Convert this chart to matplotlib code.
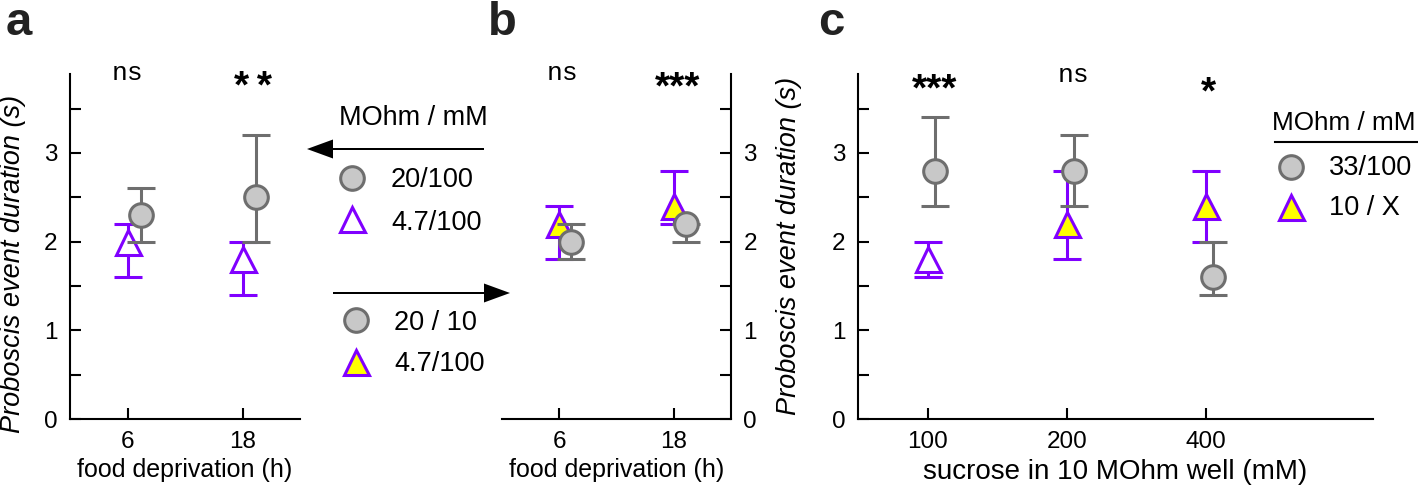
import matplotlib
matplotlib.use("Agg")
import matplotlib.pyplot as plt
from matplotlib.ticker import MultipleLocator
import numpy as np

plt.rcParams['font.family'] = ['Liberation Sans', 'DejaVu Sans']

# ---------------- data ----------------
a_cats = ["6", "18"]
a_circ_mean = [2.3, 2.5]
a_circ_lo = [2.0, 2.0]
a_circ_hi = [2.6, 3.2]
a_tri_mean = [2.0, 1.8]
a_tri_lo = [1.6, 1.4]
a_tri_hi = [2.2, 2.0]
a_sig = ["ns", "*\u2009*"]

b_cats = ["6", "18"]
b_circ_mean = [2.0, 2.2]
b_circ_lo = [1.8, 2.0]
b_circ_hi = [2.2, 2.2]
b_tri_mean = [2.2, 2.4]
b_tri_lo = [1.8, 2.2]
b_tri_hi = [2.4, 2.8]
b_sig = ["ns", "***"]

c_cats = ["100", "200", "400"]
c_circ_mean = [2.8, 2.8, 1.6]
c_circ_lo = [2.4, 2.4, 1.4]
c_circ_hi = [3.4, 3.2, 2.0]
c_tri_mean = [1.8, 2.2, 2.4]
c_tri_lo = [1.6, 1.8, 2.0]
c_tri_hi = [2.0, 2.8, 2.8]
c_tri_filled = [False, True, True]
c_sig = ["***", "ns", "*"]

yticks = [0, 1, 2, 3]

# ---------------- style ----------------
W, H = 1418, 488
GREY_E = "#6e6e6e"
GREY_F = "#c8c8c8"
PURP = "#8000ff"
YEL = "#ffff00"
CIRC_MS = 17
TRI_MS = 18
MEW = 2.2
ELW = 2.2
CAP = 10
TICK_FS = 17.5

fig = plt.figure(figsize=(W / 100, H / 100), dpi=100)


def px_axes(x0, x1, y0, y1):
    return fig.add_axes([x0 / W, 1 - y1 / H, (x1 - x0) / W, (y1 - y0) / H])


def draw(ax, cats, cm, clo, chi, tm, tlo, thi, tfill, c_off, t_off):
    x = np.arange(len(cats))
    cm = np.array(cm); tm = np.array(tm)
    terr = [tm - np.array(tlo), np.array(thi) - tm]
    cerr = [cm - np.array(clo), np.array(chi) - cm]
    for i in range(len(cats)):
        fc = YEL if tfill[i] else "white"
        ax.errorbar([x[i] + t_off], [tm[i]], yerr=[[terr[0][i]], [terr[1][i]]],
                    fmt='^', ms=TRI_MS, mfc=fc, mec=PURP, mew=MEW,
                    ecolor=PURP, elinewidth=ELW, capsize=CAP, capthick=ELW,
                    zorder=3, clip_on=False)
    ax.errorbar(x + c_off, cm, yerr=cerr, fmt='o', ms=CIRC_MS, mfc=GREY_F,
                mec=GREY_E, mew=MEW, ecolor=GREY_E, elinewidth=ELW,
                capsize=CAP, capthick=ELW, zorder=4, clip_on=False)
    ax.set_xticks(x)
    ax.set_xticklabels(cats)


def style(ax, side, xlim):
    ax.set_ylim(0, 3.89)
    ax.set_xlim(*xlim)
    ax.set_yticks(yticks)
    ax.yaxis.set_minor_locator(MultipleLocator(0.5))
    for s in ax.spines.values():
        s.set_linewidth(1.5)
    ax.spines['top'].set_visible(False)
    if side == 'left':
        ax.spines['right'].set_visible(False)
    else:
        ax.spines['left'].set_visible(False)
        ax.yaxis.tick_right()
    ax.tick_params(axis='both', which='both', direction='in', length=8,
                   width=1.5, labelsize=TICK_FS, pad=9)
    ax.tick_params(axis='x', which='minor', bottom=False)


axA = px_axes(70, 300, 74, 419)
axB = px_axes(502, 731, 74, 419)
axC = px_axes(858, 1373, 74, 419)

draw(axA, a_cats, a_circ_mean, a_circ_lo, a_circ_hi, a_tri_mean, a_tri_lo,
     a_tri_hi, [False, False], 0.12, 0.0)
draw(axB, b_cats, b_circ_mean, b_circ_lo, b_circ_hi, b_tri_mean, b_tri_lo,
     b_tri_hi, [True, True], 0.105, 0.0)
draw(axC, c_cats, c_circ_mean, c_circ_lo, c_circ_hi, c_tri_mean, c_tri_lo,
     c_tri_hi, c_tri_filled, 0.05, 0.0)

style(axA, 'left', (-0.5, 1.5))
style(axB, 'right', (-0.5, 1.5))
style(axC, 'left', (-0.5, 3.2))


def py(ypx):
    return (419 - ypx) / 88.7


# significance markers (y given as baseline pixel rows)
def sig(ax, xs, ys, labels):
    for xx, yy, lab in zip(xs, ys, labels):
        if 'n' in lab:
            ax.text(xx, py(yy), lab, family=['Liberation Mono', 'DejaVu Sans Mono'],
                    fontsize=19, ha='center', va='baseline', clip_on=False)
        else:
            ax.text(xx, py(yy), lab, family=['Liberation Sans', 'DejaVu Sans'],
                    fontsize=28, fontweight='bold', ha='center', va='baseline',
                    clip_on=False)


sig(axA, [0.0, 1.09], [80, 98], a_sig)
sig(axB, [0.03, 1.03], [80, 98], b_sig)
sig(axC, [0.05, 1.05, 2.02], [100, 82, 103], c_sig)

# axis labels
fig.text(13 / W, 1 - 264 / H, "Proboscis event duration (s)", rotation=90,
         ha='center', va='center', fontsize=19.5, style='italic')
fig.text(789 / W, 1 - 245.5 / H, "Proboscis event duration (s)", rotation=90,
         ha='center', va='center', fontsize=19.5, style='italic')
fig.text(184.5 / W, 1 - 470 / H, "food deprivation (h)", ha='center',
         va='center', fontsize=18)
fig.text(616.5 / W, 1 - 470 / H, "food deprivation (h)", ha='center',
         va='center', fontsize=18)
fig.text(1115 / W, 1 - 472 / H, "sucrose in 10 MOhm well (mM)", ha='center',
         va='center', fontsize=20)

# panel letters
for lx, lab in [(6, 'a'), (488, 'b'), (818, 'c')]:
    fig.text(lx / W, 1 - 35 / H, lab, ha='left', va='baseline', fontsize=34,
             fontweight='bold', color='#222222')

# ---------------- legends overlay (pixel coords) ----------------
ov = fig.add_axes([0, 0, 1, 1], zorder=10)
ov.set_xlim(0, W)
ov.set_ylim(H, 0)
ov.axis('off')

LEG_FS = 19.5
ov.text(413.5, 125, "MOhm / mM", ha='center', va='baseline', fontsize=LEG_FS)
ov.arrow(484, 149, -(484 - 307), 0, width=2, head_width=19, head_length=26,
         length_includes_head=True, color='black', lw=0)
ov.plot([351.5], [177.5], 'o', ms=CIRC_MS, mfc=GREY_F, mec=GREY_E, mew=MEW)
ov.text(391, 187, "20/100", ha='left', va='baseline', fontsize=LEG_FS)
ov.plot([352], [219], '^', ms=TRI_MS, mfc='white', mec=PURP, mew=MEW)
ov.text(391, 230, "4.7/100", ha='left', va='baseline', fontsize=LEG_FS)

ov.arrow(333, 293, 510 - 333, 0, width=2, head_width=19, head_length=26,
         length_includes_head=True, color='black', lw=0)
ov.plot([355.5], [320], 'o', ms=CIRC_MS, mfc=GREY_F, mec=GREY_E, mew=MEW)
ov.text(394, 330, "20 / 10", ha='left', va='baseline', fontsize=LEG_FS)
ov.plot([355.5], [362], '^', ms=TRI_MS, mfc=YEL, mec=PURP, mew=MEW)
ov.text(394, 371, "4.7/100", ha='left', va='baseline', fontsize=LEG_FS)

ov.text(1415, 130, "MOhm / mM", ha='right', va='baseline', fontsize=18.8)
ov.plot([1275, 1418], [142, 142], color='black', lw=1.5)
ov.plot([1291], [167], 'o', ms=CIRC_MS, mfc=GREY_F, mec=GREY_E, mew=MEW)
ov.text(1329, 175, "33/100", ha='left', va='baseline', fontsize=LEG_FS)
ov.plot([1291], [207], '^', ms=TRI_MS, mfc=YEL, mec=PURP, mew=MEW)
ov.text(1329, 215, "10 / X", ha='left', va='baseline', fontsize=LEG_FS)

fig.savefig("out.png", dpi=100)
